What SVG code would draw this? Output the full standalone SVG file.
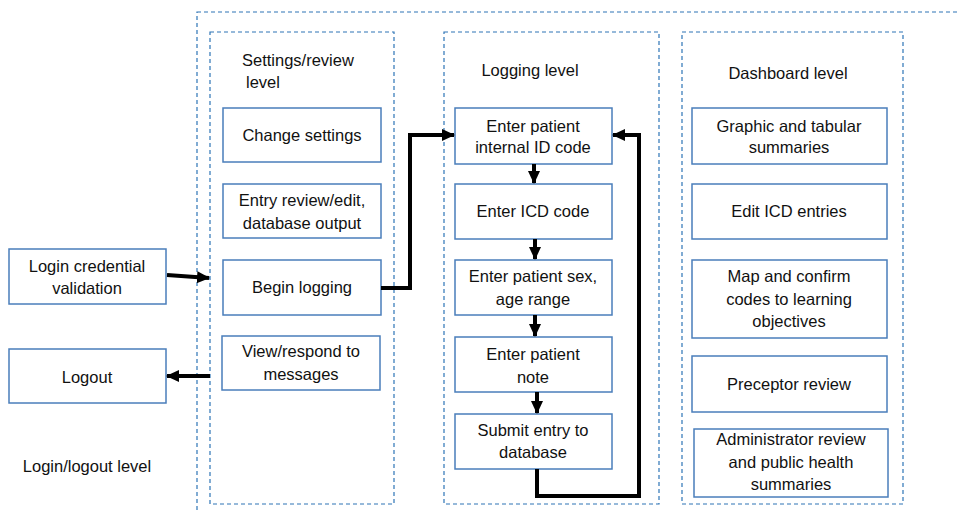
<svg xmlns="http://www.w3.org/2000/svg" width="960" height="513" viewBox="0 0 960 513">
<style>
.box{fill:#fff;stroke:#4a7ebb;stroke-width:1.5}
.dash{fill:none;stroke:#2e75b6;stroke-width:1.2;stroke-dasharray:4 3}
text{font-family:"Liberation Sans",Arial,sans-serif;font-size:16.5px;fill:#111;text-anchor:middle}
text.l{text-anchor:start}
.conn{fill:none;stroke:#000;stroke-width:4;stroke-linejoin:miter}
</style>
<defs>
<marker id="ah" markerUnits="userSpaceOnUse" markerWidth="16" markerHeight="16" refX="12" refY="8" orient="auto">
<path d="M0,2 L13,8 L0,14 Z" fill="#000"/>
</marker>
</defs>
<rect width="960" height="513" fill="#fff"/>
<g id="containers">
<rect class="dash" x="197" y="12" width="800" height="520"/>
<rect class="dash" x="210" y="32" width="184" height="472"/>
<rect class="dash" x="444" y="32" width="215" height="472"/>
<rect class="dash" x="682" y="32" width="221" height="472"/>
</g>
<g id="labels">
<text class="l" x="242" y="66">Settings/review</text>
<text class="l" x="246" y="88">level</text>
<text x="530" y="76">Logging level</text>
<text x="788" y="79">Dashboard level</text>
<text x="87" y="472">Login/logout level</text>
</g>
<g id="login"><rect class="box" x="9" y="249" width="157" height="55"/><text x="87" y="272">Login credential</text><text x="87" y="294">validation</text></g>
<g id="logout"><rect class="box" x="9" y="349" width="157" height="54"/><text x="87" y="383">Logout</text></g>
<g id="change-settings"><rect class="box" x="223" y="108" width="158" height="54"/><text x="302" y="141">Change settings</text></g>
<g id="entry-review"><rect class="box" x="223" y="184" width="158" height="54"/><text x="302" y="206">Entry review/edit,</text><text x="302" y="229">database output</text></g>
<g id="begin-logging"><rect class="box" x="223" y="260" width="158" height="55"/><text x="302" y="293">Begin logging</text></g>
<g id="view-messages"><rect class="box" x="222" y="336" width="158" height="54"/><text x="301" y="357">View/respond to</text><text x="301" y="380">messages</text></g>
<g id="enter-id"><rect class="box" x="455" y="108" width="157" height="56"/><text x="533" y="132">Enter patient</text><text x="533" y="153">internal ID code</text></g>
<g id="enter-icd"><rect class="box" x="455" y="184" width="157" height="55"/><text x="533" y="217">Enter ICD code</text></g>
<g id="enter-sex"><rect class="box" x="455" y="260" width="157" height="55"/><text x="533" y="282">Enter patient sex,</text><text x="533" y="305">age range</text></g>
<g id="enter-note"><rect class="box" x="455" y="337" width="157" height="55"/><text x="533" y="360">Enter patient</text><text x="533" y="383">note</text></g>
<g id="submit"><rect class="box" x="455" y="414" width="157" height="55"/><text x="533" y="436">Submit entry to</text><text x="533" y="458">database</text></g>
<g id="graphic"><rect class="box" x="692" y="108" width="195" height="56"/><text x="789" y="132">Graphic and tabular</text><text x="789" y="153">summaries</text></g>
<g id="edit-icd"><rect class="box" x="692" y="184" width="195" height="55"/><text x="789" y="217">Edit ICD entries</text></g>
<g id="map-codes"><rect class="box" x="692" y="260" width="195" height="78"/><text x="789" y="282">Map and confirm</text><text x="789" y="305">codes to learning</text><text x="789" y="327">objectives</text></g>
<g id="preceptor"><rect class="box" x="692" y="356" width="195" height="56"/><text x="789" y="390">Preceptor review</text></g>
<g id="admin"><rect class="box" x="694" y="429" width="194" height="68"/><text x="791" y="445">Administrator review</text><text x="791" y="468">and public health</text><text x="791" y="490">summaries</text></g>
<g id="connectors">
<path class="conn" d="M167,275 L209,278" marker-end="url(#ah)"/>
<path class="conn" d="M210,376 L167,376" marker-end="url(#ah)"/>
<path class="conn" d="M381,288 L410,288 L410,135 L454,135" marker-end="url(#ah)"/>
<path class="conn" d="M534,164 L534,183" marker-end="url(#ah)"/>
<path class="conn" d="M535,239 L535,259" marker-end="url(#ah)"/>
<path class="conn" d="M535,315 L535,336" marker-end="url(#ah)"/>
<path class="conn" d="M537,392 L537,413" marker-end="url(#ah)"/>
<path class="conn" d="M537,469 L537,496 L639,496 L639,135 L613,135" marker-end="url(#ah)"/>
</g>
</svg>
